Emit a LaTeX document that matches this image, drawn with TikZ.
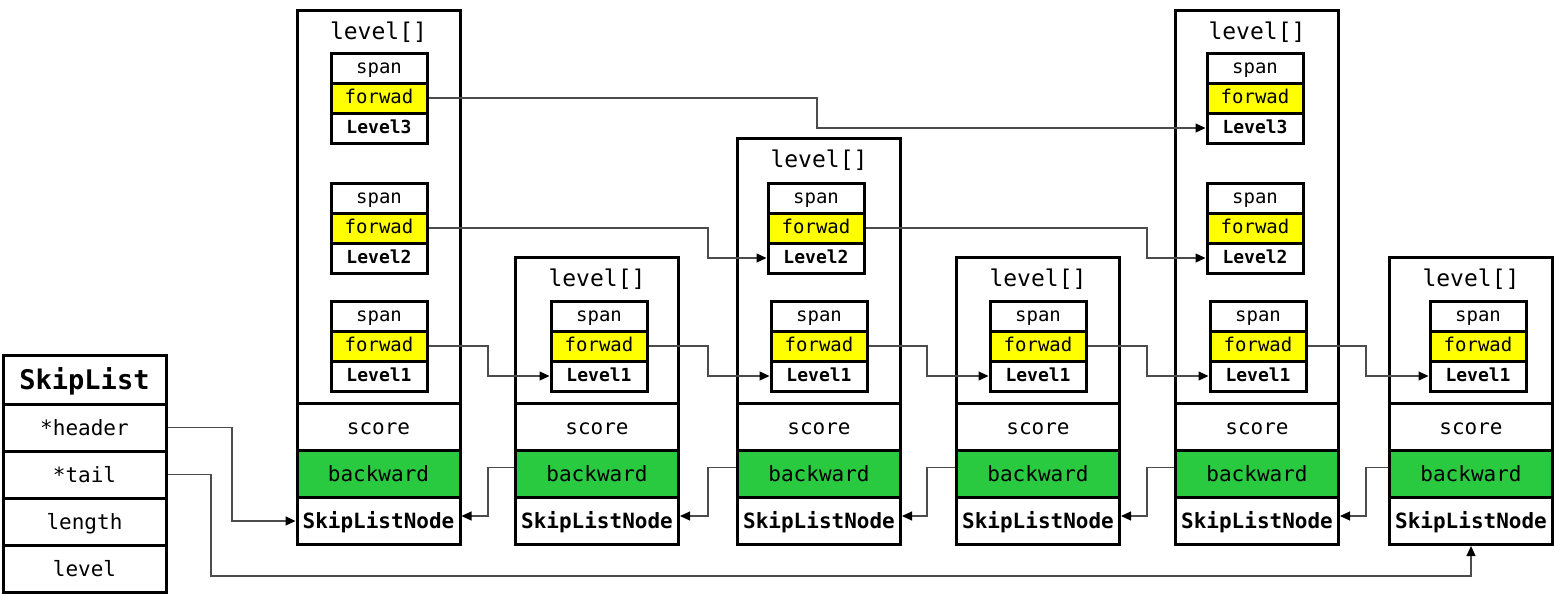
\documentclass[tikz,border=0pt]{standalone}
\usepackage{fontspec}
\setmonofont{DejaVu Sans Mono}
\usetikzlibrary{arrows.meta}

\definecolor{fwyellow}{RGB}{255,255,0}
\definecolor{bwgreen}{RGB}{41,201,64}

\begin{document}
\begin{tikzpicture}[x=1pt, y=-1pt, line join=miter,
  cell/.style={draw, line width=3pt, fill=white, minimum width=163pt, minimum height=47pt, inner sep=0pt, text height=18pt, text depth=3pt, font=\ttfamily\fontsize{21}{25}\selectfont},
  slot/.style={draw, line width=3pt, fill=white, minimum width=96pt, minimum height=30pt, inner sep=0pt, text height=14pt, text depth=4pt, font=\ttfamily\fontsize{19}{22}\selectfont},
  lvtitle/.style={inner sep=0pt, anchor=base, font=\ttfamily\fontsize{23}{27}\selectfont},
  link/.style={draw=black!70, line width=1.2pt, -{Triangle[length=10pt,width=9pt,black]}}]

  %% ════ SkipList 表头 ════
  \node[cell, minimum height=49pt, text height=23pt, text depth=4pt, font=\ttfamily\bfseries\fontsize{27}{32}\selectfont] (sl) at (84.5,379.5) {SkipList};
  \node[cell] (hd) at (84.5,427.5) {*header};
  \node[cell] (tl) at (84.5,474.5) {*tail};
  \node[cell] (ln) at (84.5,521.5) {length};
  \node[cell] (lvl) at (84.5,568.5) {level};

  %% ════ 六个 SkipListNode（外框 + score / backward / 名字）════
  \foreach \id/\cx/\ty in {0/378.5/10, 1/597/257, 2/819/138, 3/1038/257, 4/1257/10, 5/1471/257}{
    \node[cell, minimum height={403-\ty}] (u\id) at (\cx,{(403+\ty)/2}) {};
    \node[lvtitle] (lv\id) at (\cx,\ty+29.5) {level[]};
    \node[cell] (sc\id) at (\cx,426.5) {score};
    \node[cell, fill=bwgreen] (b\id) at (\cx,473.5) {backward};
    \node[cell, font=\ttfamily\bfseries\fontsize{21}{25}\selectfont] (s\id) at (\cx,521) {SkipListNode};
    % backward 指针的落点（略高于中线）
    \coordinate (sa\id) at ([yshift=5pt]s\id.east);
    \coordinate (bo\id) at ([yshift=6pt]b\id.west);
  }

  %% ════ level[] 里的层（span / forwad / LevelN）════
  \foreach \c/\k/\cx/\ty in {0/3/379/53, 0/2/379/183, 0/1/379/301, 1/1/599/301, 2/2/816/183, 2/1/819/301,
                             3/1/1038/301, 4/3/1255/53, 4/2/1255/183, 4/1/1258/301, 5/1/1478/301}{
    \node[slot] (sp\c\k) at (\cx,\ty+15) {span};
    \node[slot, fill=fwyellow] (f\c\k) at (\cx,\ty+45) {forwad};
    \node[slot, font=\ttfamily\bfseries\fontsize{18}{22}\selectfont] (l\c\k) at (\cx,\ty+75) {Level\k};
  }

  %% ════ 折线拐点所在的竖线 ════
  \coordinate (g01) at (488,0);
  \coordinate (g12) at (708,0);
  \coordinate (g23) at (927,0);
  \coordinate (g34) at (1147,0);
  \coordinate (g45) at (1366,0);
  \coordinate (gl3) at (817,0);
  \coordinate (ghd) at (232,0);
  \coordinate (gtl) at (211,576);

  %% ════ forward 指针 ════
  \draw[link] (f03.east) -| (gl3 |- l43.west) -- (l43.west);
  \draw[link] (f02.east) -| (g12 |- l22.west) -- (l22.west);
  \draw[link] (f22.east) -| (g34 |- l42.west) -- (l42.west);
  \draw[link] (f01.east) -| (g01 |- l11.west) -- (l11.west);
  \draw[link] (f11.east) -| (g12 |- l21.west) -- (l21.west);
  \draw[link] (f21.east) -| (g23 |- l31.west) -- (l31.west);
  \draw[link] (f31.east) -| (g34 |- l41.west) -- (l41.west);
  \draw[link] (f41.east) -| (g45 |- l51.west) -- (l51.west);

  %% ════ backward 指针 ════
  \draw[link] (bo1) -| (g01 |- sa0) -- (sa0);
  \draw[link] (bo2) -| (g12 |- sa1) -- (sa1);
  \draw[link] (bo3) -| (g23 |- sa2) -- (sa2);
  \draw[link] (bo4) -| (g34 |- sa3) -- (sa3);
  \draw[link] (bo5) -| (g45 |- sa4) -- (sa4);

  %% ════ header / tail ════
  \draw[link] (hd.east) -| (ghd |- s0.west) -- (s0.west);
  \draw[link] (tl.east) -| (gtl) -| (s5.south);

  % 钉死画布
  \pgfresetboundingbox
  \path[use as bounding box] (0,0) rectangle (1564,603);
\end{tikzpicture}
\end{document}
